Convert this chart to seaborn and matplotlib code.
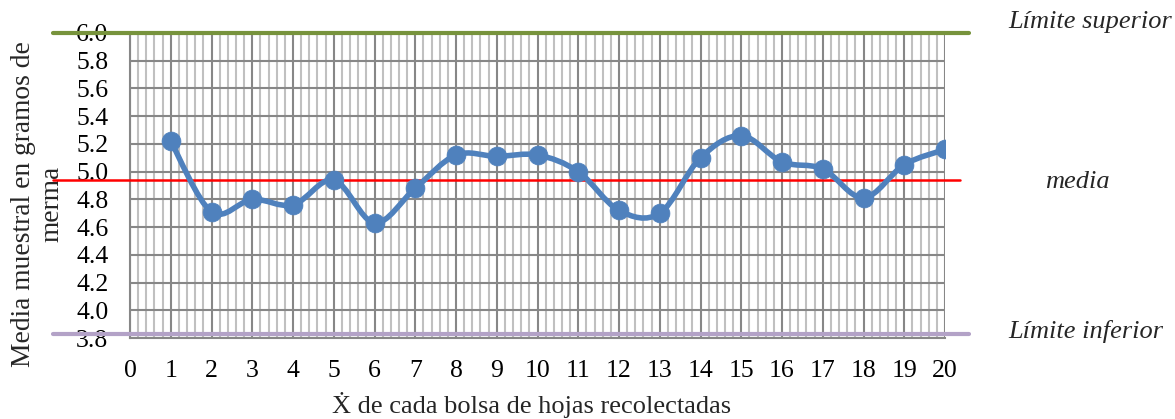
import numpy as np
import pandas as pd
import matplotlib
matplotlib.use("Agg")
import matplotlib.pyplot as plt
from matplotlib.path import Path
from matplotlib.patches import PathPatch
from matplotlib.ticker import MultipleLocator
import seaborn as sns

# values
bolsa = list(range(1, 21))
media_muestral = [5.22, 4.71, 4.80, 4.76, 4.94, 4.63, 4.88, 5.12, 5.11, 5.12,
                  5.00, 4.72, 4.70, 5.10, 5.26, 5.07, 5.02, 4.81, 5.05, 5.16]
limite_superior = 6.0
media = 4.94
limite_inferior = 3.83
x_ticks = list(range(0, 21))
y_ticks = [3.8, 4.0, 4.2, 4.4, 4.6, 4.8, 5.0, 5.2, 5.4, 5.6, 5.8, 6.0]

df = pd.DataFrame({"bolsa": bolsa, "media": media_muestral})

sns.set_style("white")
plt.rcParams["font.family"] = ["Liberation Serif", "DejaVu Serif"]

fig = plt.figure(figsize=(11.75, 4.19), dpi=100)
ax = fig.add_axes([130 / 1175, 1 - 338 / 419, 815 / 1175, 305 / 419])

major_grey = "#878787"
minor_grey = "#c0c0c0"

ax.set_xlim(0, 20)
ax.set_ylim(3.8, 6.0)
ax.set_xticks(x_ticks)
ax.set_yticks(y_ticks)
ax.set_yticklabels([f"{v:.1f}" for v in y_ticks])
ax.xaxis.set_minor_locator(MultipleLocator(0.2))
ax.grid(which="minor", axis="x", color=minor_grey, lw=1.5)
ax.grid(which="major", axis="x", color=major_grey, lw=1.5)
ax.grid(which="major", axis="y", color=major_grey, lw=1.5)
ax.set_axisbelow(True)
ax.tick_params(axis="both", which="major", direction="out", length=5.5, width=1.5,
               color=major_grey, labelsize=18.5, pad=10, labelcolor="black")
ax.tick_params(axis="x", which="minor", length=0)
for side in ["top", "right"]:
    ax.spines[side].set_visible(False)
for side in ["left", "bottom"]:
    ax.spines[side].set_color(major_grey)
    ax.spines[side].set_linewidth(1.5)

# control lines, reaching past the plot area as in the original
ax.axhline(limite_superior, xmin=-0.094, xmax=1.029, color="#77933c", lw=3, clip_on=False, zorder=3)
ax.axhline(media, xmin=-0.094, xmax=1.019, color="#ff0000", lw=1.8, clip_on=False, zorder=3)
ax.axhline(limite_inferior, xmin=-0.094, xmax=1.029, color="#b3a2c7", lw=3, clip_on=False, zorder=3)

# smoothed series (Catmull-Rom style bezier, like the spreadsheet "smoothed line")
pts = df[["bolsa", "media"]].to_numpy(dtype=float)
ext = np.vstack([pts[0], pts, pts[-1]])
verts = [tuple(pts[0])]
codes = [Path.MOVETO]
for i in range(1, len(ext) - 2):
    p0, p1, p2, p3 = ext[i - 1], ext[i], ext[i + 1], ext[i + 2]
    c1 = p1 + (p2 - p0) / 6.0
    c2 = p2 - (p3 - p1) / 6.0
    verts += [tuple(c1), tuple(c2), tuple(p2)]
    codes += [Path.CURVE4] * 3
ax.add_patch(PathPatch(Path(verts, codes), facecolor="none", edgecolor="#4f81bd",
                       lw=4.0, capstyle="round", joinstyle="round", zorder=4))
sns.scatterplot(data=df, x="bolsa", y="media", ax=ax, color="#4f81bd", s=185,
                edgecolor="#4f81bd", linewidth=0.5, zorder=5, legend=False)

ax.set_xlabel("Ẋ de cada bolsa de hojas recolectadas", fontsize=19)
ax.xaxis.set_label_coords(532 / 1175, 1 - 413 / 419, transform=fig.transFigure)
ax.xaxis.label.set_va("baseline")
ax.set_ylabel("Media muestral en gramos de\nmerma", fontsize=19.8, linespacing=1.2)
ax.yaxis.set_label_coords(37.5 / 1175, 1 - 204 / 419, transform=fig.transFigure)
ax.yaxis.label.set_va("center")

fig.text(1008 / 1175, 1 - 28 / 419, "Límite superior", fontsize=19, style="italic", va="baseline")
fig.text(1045 / 1175, 1 - 188 / 419, "media", fontsize=19, style="italic", va="baseline")
fig.text(1008 / 1175, 1 - 338 / 419, "Límite inferior", fontsize=19, style="italic", va="baseline")

fig.savefig("out.png", dpi=100, facecolor="white")
